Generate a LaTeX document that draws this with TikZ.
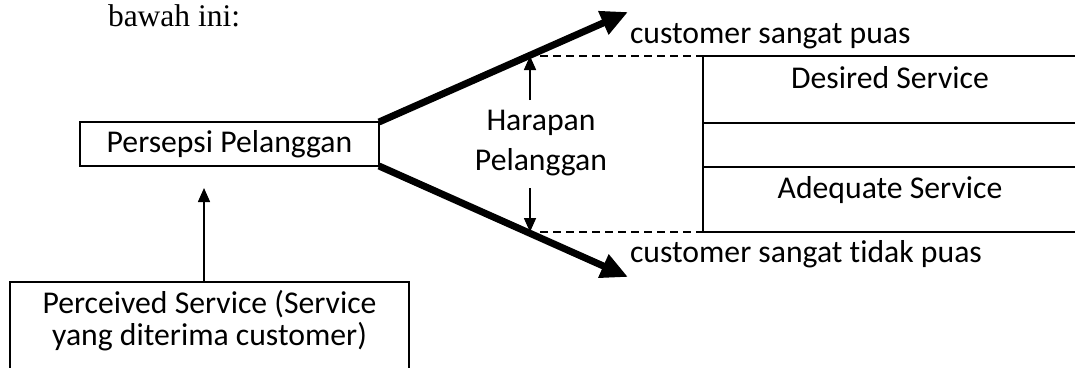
\documentclass[tikz,border=0pt]{standalone}
\usepackage{fontspec}
\setmainfont{Carlito}[Ligatures={NoCommon}]
\newfontfamily\timesfont{Liberation Serif}
\usetikzlibrary{arrows.meta}
\begin{document}
\begin{tikzpicture}[x=1pt,y=-1pt,
  every node/.style={font=\fontsize{31.7pt}{38pt}\selectfont, inner sep=0pt, outer sep=0pt},
  box/.style={draw, line width=1.6pt},
  bigarrow/.style={line width=7pt, -{Triangle[length=27pt,width=24pt]}},
  smallarrow/.style={line width=1.6pt, -{Triangle[length=14pt,width=12pt]}},
  rule/.style={line width=1.6pt},
  guide/.style={line width=1.4pt, dash pattern=on 8pt off 5pt}]
\useasboundingbox (0,0) rectangle (1075,367);

% lead-in sentence
\node[anchor=base west, font=\timesfont\fontsize{31.5pt}{38pt}\selectfont] (lead) at (108,26) {bawah ini:};

% boxes
\node[box, minimum width=299pt, minimum height=44pt] (persepsi) at (229.5,144) {Persepsi Pelanggan};
\node[box, minimum width=399pt, minimum height=110pt, anchor=north west] (perceived) at (10,282) {};
\node[anchor=base] (pline1) at (209.5,313) {Perceived Service (Service};
\node[anchor=base] (pline2) at (209.5,345) {yang diterima customer)};

% perceived service feeds the perception
\draw[smallarrow] ([xshift=-5.5pt]perceived.north) -- ([xshift=-25.5pt,yshift=-22pt]persepsi.south);

% expectation fan
\coordinate (puas) at (628,12);
\coordinate (tidakpuas) at (628,277);
\draw[bigarrow] (persepsi.north east) -- (puas);
\draw[bigarrow] (persepsi.south east) -- (tidakpuas);

\node[anchor=base west] (lblpuas) at (630,43) {customer sangat puas};
\node[anchor=base west] (lbltidak) at (630,262) {customer sangat tidak puas};

% expectation label with its range arrows
\node[anchor=base] (harapan) at (541,130) {Harapan};
\node[anchor=base] (pelanggan) at (541,170) {Pelanggan};
\coordinate (upfoot) at (530,100);
\coordinate (uptip) at (530,56);
\coordinate (downfoot) at (530,188);
\coordinate (downtip) at (530,232);
\draw[smallarrow] (upfoot) -- (uptip);
\draw[smallarrow] (downfoot) -- (downtip);

% service level table
\coordinate (tabtop) at (703,56);
\coordinate (tabbot) at (703,232);
\draw[guide] (540,56) -- (tabtop);
\draw[guide] (540,232) -- (tabbot);
\draw[rule] (tabtop) -- (tabbot);
\draw[rule] (tabtop) -- (1075,56);
\draw[rule] (703,123) -- (1075,123);
\draw[rule] (703,167) -- (1075,167);
\draw[rule] (tabbot) -- (1075,232);

\node[anchor=base] (desired) at (890,88) {Desired Service};
\node[anchor=base] (adequate) at (890,198) {Adequate Service};
\end{tikzpicture}
\end{document}
